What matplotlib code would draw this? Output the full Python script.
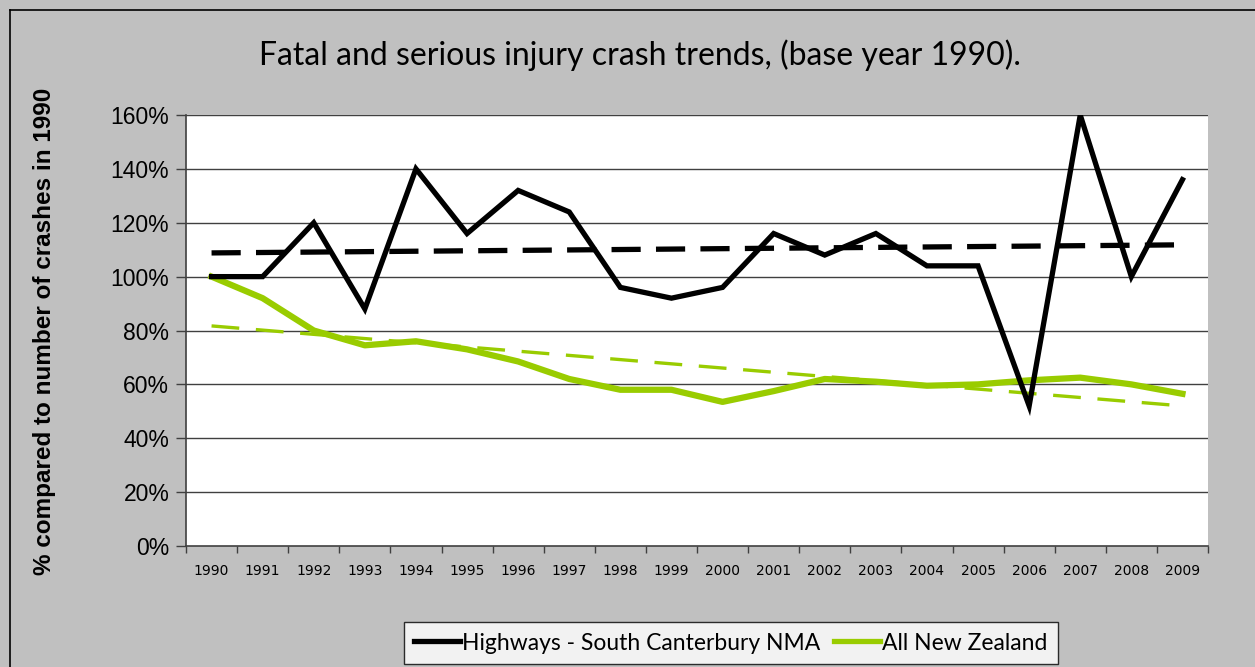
import numpy as np
import matplotlib
matplotlib.use("Agg")
import matplotlib.pyplot as plt
from matplotlib.lines import Line2D

# data (% of 1990 crash count)
years = [str(y) for y in range(1990, 2010)]
highways = [100, 100, 120, 88, 140, 116, 132, 124, 96, 92,
            96, 116, 108, 116, 104, 104, 52, 160, 100, 136]
all_nz = [100, 92, 80, 74.5, 76, 73, 68.5, 62, 58, 58,
          53.5, 57.5, 62, 61, 59.5, 60, 61.5, 62.5, 60, 56.5]
# linear trend lines, value at first and last year
highways_trend = [108.8, 111.8]
all_nz_trend = [81.7, 52.0]
y_ticks = [0, 20, 40, 60, 80, 100, 120, 140, 160]

title = "Fatal and serious injury crash trends, (base year 1990)."
ylabel = "% compared to number of crashes in 1990"
labels = ["Highways - South Canterbury NMA", "All New Zealand"]

BG = "#c0c0c0"
GREEN = "#99cc00"
W, H = 1255, 667

plt.rcParams["lines.scale_dashes"] = False

fig = plt.figure(figsize=(W / 100, H / 100), dpi=100, facecolor=BG)

# outer chart border (left and top edges visible)
fig.add_artist(Line2D([10 / W, 10 / W], [0, 1 - 9.5 / H], transform=fig.transFigure,
                      color="black", lw=1.2))
fig.add_artist(Line2D([10 / W, 1], [1 - 9.5 / H, 1 - 9.5 / H], transform=fig.transFigure,
                      color="black", lw=1.2))

ax = fig.add_axes([186 / W, 1 - 546 / H, 1022 / W, 431 / H])
ax.set_facecolor("white")

x = np.arange(len(years))
ax.plot(x, highways, color="black", lw=3.8, solid_joinstyle="miter", zorder=4)
ax.plot(x, all_nz, color=GREEN, lw=4.5, solid_joinstyle="round", zorder=3)
ax.plot([x[0], x[-1]], highways_trend, color="black", lw=3.8,
        dashes=(21, 11), zorder=2)
ax.plot([x[0], x[-1]], all_nz_trend, color=GREEN, lw=2.4,
        dashes=(20, 12), zorder=2)

ax.set_xlim(-0.5, len(years) - 0.5)
ax.set_ylim(0, 160)

# gridlines
for v in y_ticks[1:]:
    ax.axhline(v, color="#404040", lw=1.0, zorder=1)

ax.set_yticks(y_ticks)
ax.set_yticklabels([f"{v}%" for v in y_ticks], fontsize=16.5, family="Liberation Sans")
ax.tick_params(axis="y", length=7, width=1, color="#404040", pad=5)

ax.set_xticks(np.arange(-0.5, len(years), 1))
ax.set_xticklabels([])
ax.tick_params(axis="x", which="major", length=5, width=1, color="#404040")
ax.set_xticks(x, minor=True)
ax.set_xticklabels(years, minor=True, fontsize=10, family="DejaVu Sans")
ax.tick_params(axis="x", which="minor", length=0, pad=13)

for side in ["top", "right"]:
    ax.spines[side].set_visible(False)
for side in ["left", "bottom"]:
    ax.spines[side].set_color("#404040")
    ax.spines[side].set_linewidth(1.2)

fig.text(640 / W, 1 - 55 / H, title, ha="center", va="center",
         fontsize=23, family="Lato")
fig.text(45 / W, 1 - 331 / H, ylabel, ha="center", va="center", rotation=90,
         fontsize=17.5, fontweight="bold", family="Liberation Sans")

handles = [Line2D([], [], color="black", lw=3.8),
           Line2D([], [], color=GREEN, lw=3.8)]
leg = fig.legend(handles, labels, loc="center", bbox_to_anchor=(731 / W, 1 - 643 / H),
                 ncol=2, frameon=True, fancybox=False,
                 prop={"family": "Lato", "size": 16.5},
                 handlelength=2.0, handletextpad=0.1, columnspacing=0.6,
                 borderpad=0.45, borderaxespad=0)
leg.get_frame().set_edgecolor("black")
leg.get_frame().set_linewidth(1.0)
leg.get_frame().set_facecolor("white")

fig.savefig("out.png", dpi=100, facecolor=BG)
